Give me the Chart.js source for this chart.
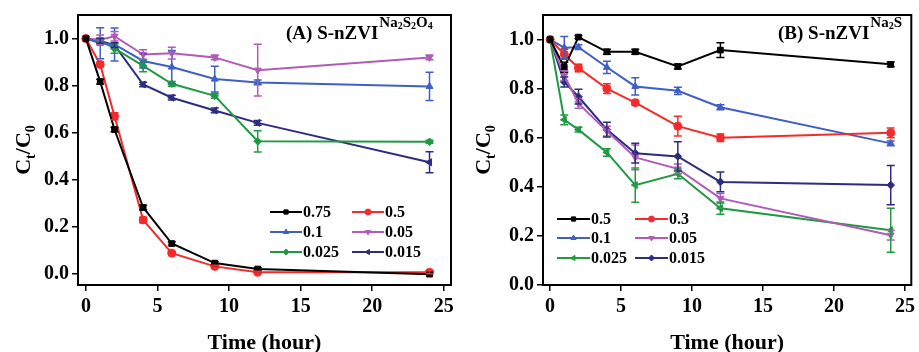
<!DOCTYPE html>
<html>
<head>
    <title>Ct/C0 vs time</title>
    <script src="https://cdn.jsdelivr.net/npm/chart.js"></script>
    <style>
        body { margin: 0; background: #fff; }
        .panel { position: absolute; top: 0; height: 352px; }
        #panelA { left: 0; width: 459px; }
        #panelB { left: 459px; width: 460px; }
    </style>
</head>
<body>
    <div id="panelA" class="panel"><canvas id="chartA" width="459" height="352"></canvas></div>
    <div id="panelB" class="panel"><canvas id="chartB" width="460" height="352"></canvas></div>

    <script>
        // sampling times (hour) and axis ticks
        const hours = [0, 1, 2, 4, 6, 9, 12, 24];
        const xTickValues = [0, 5, 10, 15, 20, 25];
        const yTickValues = [0, 0.2, 0.4, 0.6, 0.8, 1.0];

        // (A) S-nZVI Na2S2O4
        const namesA = ['0.75', '0.5', '0.1', '0.05', '0.025', '0.015'];
        const a075 = [1.0, 0.817, 0.614, 0.283, 0.13, 0.047, 0.022, 0.0];
        const a05 = [1.0, 0.89, 0.67, 0.23, 0.089, 0.033, 0.008, 0.008];
        const a01 = [1.0, 0.98, 0.975, 0.905, 0.879, 0.828, 0.814, 0.797];
        const a005 = [1.0, 0.995, 1.01, 0.932, 0.938, 0.92, 0.866, 0.92];
        const a0025 = [1.0, 0.99, 0.958, 0.884, 0.808, 0.757, 0.564, 0.562];
        const a0015 = [1.0, 0.99, 0.972, 0.805, 0.749, 0.695, 0.642, 0.475];
        const a075Err = [0, 0.01, 0.01, 0.01, 0.008, 0.006, 0.005, 0];
        const a05Err = [0, 0.01, 0.015, 0.012, 0.006, 0.005, 0.004, 0.006];
        const a01Err = [0, 0.066, 0.07, 0.03, 0.07, 0.055, 0.01, 0.06];
        const a005Err = [0, 0.02, 0.02, 0.02, 0.025, 0.01, 0.11, 0.01];
        const a0025Err = [0, 0.01, 0.02, 0.025, 0.01, 0.01, 0.045, 0.006];
        const a0015Err = [0, 0.01, 0.01, 0.01, 0.01, 0.01, 0.01, 0.045];

        // (B) S-nZVI Na2S
        const namesB = ['0.5', '0.3', '0.1', '0.05', '0.025', '0.015'];
        const b05 = [1.0, 0.887, 1.01, 0.95, 0.95, 0.89, 0.957, 0.899];
        const b03 = [1.0, 0.94, 0.884, 0.80, 0.743, 0.647, 0.60, 0.62];
        const b01 = [1.0, 0.967, 0.969, 0.887, 0.809, 0.791, 0.724, 0.577];
        const b005 = [1.0, 0.853, 0.74, 0.627, 0.52, 0.473, 0.353, 0.203];
        const b0025 = [1.0, 0.673, 0.633, 0.54, 0.407, 0.453, 0.313, 0.223];
        const b0015 = [1.0, 0.827, 0.767, 0.633, 0.537, 0.524, 0.42, 0.407];
        const b05Err = [0, 0.02, 0.006, 0.01, 0.01, 0.01, 0.03, 0.01];
        const b03Err = [0, 0.02, 0.015, 0.02, 0.01, 0.04, 0.015, 0.02];
        const b01Err = [0, 0.045, 0.01, 0.025, 0.035, 0.015, 0.01, 0.01];
        const b005Err = [0, 0.02, 0.02, 0.02, 0.05, 0.02, 0.02, 0.02];
        const b0025Err = [0, 0.02, 0.01, 0.015, 0.07, 0.02, 0.025, 0.09];
        const b0015Err = [0, 0.02, 0.03, 0.03, 0.04, 0.06, 0.04, 0.08];

        const colors = ['#000000', '#f52a2a', '#3f5fc6', '#b05cb6', '#1f9a42', '#2c2c80'];
        const markersA = [['rect', 0], ['circle', 0], ['triangle', 0], ['triangle', 180], ['rectRot', 0], ['triangle', -90]];
        const markersB = [['rect', 0], ['circle', 0], ['triangle', 0], ['triangle', 180], ['triangle', -90], ['rectRot', 0]];

        const serif = "'Liberation Serif', 'Times New Roman', serif";
        Chart.defaults.font.family = serif;
        Chart.defaults.color = '#000';

        function makeSets(names, values, errors, markers) {
            return names.map((name, i) => ({
                label: name,
                data: hours.map((h, j) => ({ x: h, y: values[i][j] })),
                errors: errors[i],
                borderColor: colors[i],
                backgroundColor: colors[i],
                pointBackgroundColor: colors[i],
                pointBorderColor: colors[i],
                pointStyle: markers[i][0],
                pointRotation: markers[i][1],
                pointRadius: markers[i][0] === 'rectRot' ? 3.8 : 4,
                pointBorderWidth: 1,
                borderWidth: 2,
                tension: 0
            }));
        }

        function drawMarker(ctx, style, rot, r, x, y) {
            if (Chart.helpers && Chart.helpers.drawPoint) {
                Chart.helpers.drawPoint(ctx, { pointStyle: style, rotation: rot, radius: r, borderWidth: 1 }, x, y);
            } else {
                ctx.beginPath(); ctx.arc(x, y, r, 0, Math.PI * 2); ctx.fill(); ctx.stroke();
            }
        }

        function drawParts(ctx, parts, x, y) {
            parts.forEach(([txt, size, dy]) => {
                ctx.font = `bold ${size}px ${serif}`;
                ctx.fillText(txt, x, y + (dy || 0));
                x += ctx.measureText(txt).width;
            });
        }

        function partsWidth(ctx, parts) {
            return parts.reduce((w, [txt, size]) => {
                ctx.font = `bold ${size}px ${serif}`;
                return w + ctx.measureText(txt).width;
            }, 0);
        }

        // box, error bars, inner legend and texts
        const decorPlugin = {
            id: 'decor',
            afterDatasetsDraw(chart, args, opts) {
                const ctx = chart.ctx, xs = chart.scales.x, ys = chart.scales.y;
                ctx.save();
                chart.data.datasets.forEach(ds => {
                    ctx.strokeStyle = ds.borderColor;
                    ctx.lineWidth = 1.5;
                    ds.data.forEach((p, i) => {
                        const e = ds.errors[i];
                        if (!e) return;
                        const x = xs.getPixelForValue(p.x);
                        const y1 = ys.getPixelForValue(p.y + e);
                        const y2 = ys.getPixelForValue(p.y - e);
                        ctx.beginPath();
                        ctx.moveTo(x, y1); ctx.lineTo(x, y2);
                        ctx.moveTo(x - 4, y1); ctx.lineTo(x + 4, y1);
                        ctx.moveTo(x - 4, y2); ctx.lineTo(x + 4, y2);
                        ctx.stroke();
                    });
                });
                ctx.restore();
            },
            afterDraw(chart, args, opts) {
                const ctx = chart.ctx, a = chart.chartArea;
                ctx.save();
                ctx.strokeStyle = '#000';
                ctx.lineWidth = 2;
                ctx.strokeRect(a.left, a.top, a.right - a.left, a.bottom - a.top);

                // legend, two columns
                ctx.textBaseline = 'middle';
                ctx.textAlign = 'left';
                chart.data.datasets.forEach((ds, i) => {
                    const x = opts.legendX[i % 2], y = opts.legendY[Math.floor(i / 2)];
                    ctx.strokeStyle = ds.borderColor;
                    ctx.fillStyle = ds.borderColor;
                    ctx.lineWidth = 2;
                    ctx.beginPath(); ctx.moveTo(x, y); ctx.lineTo(x + opts.lineLen, y); ctx.stroke();
                    ctx.lineWidth = 1;
                    drawMarker(ctx, ds.pointStyle, ds.pointRotation, 3, x + opts.lineLen / 2, y);
                    ctx.fillStyle = '#000';
                    ctx.font = `bold 16px ${serif}`;
                    ctx.fillText(ds.label, x + opts.lineLen + 1, y + 1);
                });

                // panel title with superscript
                ctx.textBaseline = 'alphabetic';
                ctx.fillStyle = '#000';
                ctx.font = `bold 19px ${serif}`;
                ctx.fillText(opts.title, opts.titleX, 39);
                const tw = ctx.measureText(opts.title).width;
                drawParts(ctx, opts.sup, opts.titleX + tw + 1, 27);

                // y axis title Ct/C0
                const yParts = [['C', 22], ['t', 14, 5], ['/C', 22], ['0', 14, 5]];
                ctx.translate(opts.yTitleX, (a.top + a.bottom) / 2);
                ctx.rotate(-Math.PI / 2);
                drawParts(ctx, yParts, -partsWidth(ctx, yParts) / 2, 8);
                ctx.rotate(Math.PI / 2);
                ctx.translate(-opts.yTitleX, -(a.top + a.bottom) / 2);

                // x axis title
                ctx.textAlign = 'center';
                ctx.font = `bold 22px ${serif}`;
                ctx.fillText('Time (hour)', (a.left + a.right) / 2, 349);
                ctx.restore();
            }
        };

        function makeChart(id, sets, xMin, xMax, yMin, yAxisWidth, padRight, decor) {
            return new Chart(document.getElementById(id), {
                type: 'line',
                data: { datasets: sets },
                options: {
                    responsive: false,
                    animation: false,
                    devicePixelRatio: 1,
                    layout: { padding: { left: 0, right: padRight, top: 10, bottom: 0 } },
                    plugins: { legend: { display: false }, tooltip: { enabled: false }, decor: decor },
                    scales: {
                        x: {
                            type: 'linear', min: xMin, max: xMax,
                            afterBuildTicks: s => { s.ticks = xTickValues.map(v => ({ value: v })); },
                            afterFit: s => { s.height = 67; },
                            grid: { drawOnChartArea: false, tickLength: 6, color: '#000', lineWidth: 1.5 },
                            border: { display: false },
                            ticks: { padding: 4, maxRotation: 0, autoSkip: false, font: { size: 20, weight: 'bold' } }
                        },
                        y: {
                            type: 'linear', min: yMin, max: 1.1,
                            afterBuildTicks: s => { s.ticks = yTickValues.map(v => ({ value: v })); },
                            afterFit: s => { s.width = yAxisWidth; },
                            grid: { drawOnChartArea: false, tickLength: 6, color: '#000', lineWidth: 1.5 },
                            border: { display: false },
                            ticks: { padding: 3, font: { size: 20, weight: 'bold' }, callback: v => v.toFixed(1) }
                        }
                    }
                },
                plugins: [decorPlugin]
            });
        }

        makeChart('chartA',
            makeSets(namesA, [a075, a05, a01, a005, a0025, a0015],
                [a075Err, a05Err, a01Err, a005Err, a0025Err, a0015Err], markersA),
            -0.55, 25.5, -0.046, 78, 8,
            {
                legendX: [270, 352], legendY: [212, 232, 252], lineLen: 32,
                title: '(A) S-nZVI', titleX: 286,
                sup: [['Na', 15], ['2', 10, 2], ['S', 15], ['2', 10, 2], ['O', 15], ['4', 10, 2]],
                yTitleX: 22
            });

        makeChart('chartB',
            makeSets(namesB, [b05, b03, b01, b005, b0025, b0015],
                [b05Err, b03Err, b01Err, b005Err, b0025Err, b0015Err], markersB),
            -0.5, 25.45, 0, 84, 5,
            {
                legendX: [98, 176], legendY: [219, 238, 258], lineLen: 33,
                title: '(B) S-nZVI', titleX: 319,
                sup: [['Na', 15], ['2', 10, 2], ['S', 15]],
                yTitleX: 23
            });
    </script>
</body>
</html>
